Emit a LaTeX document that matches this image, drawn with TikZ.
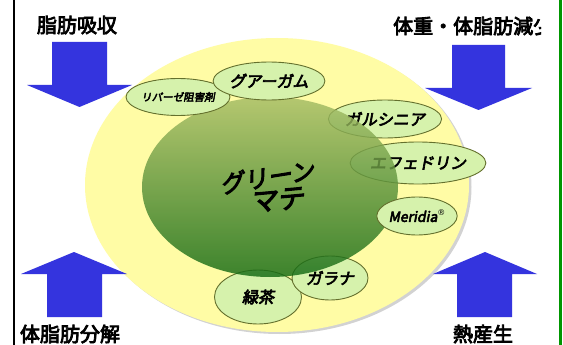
\documentclass[tikz,border=0pt]{standalone}
\usepackage{fontspec}
\usetikzlibrary{shapes.geometric}
\newfontfamily\jp{Noto Sans CJK JP}[FakeBold=4]
\newfontfamily\jpi{Noto Sans CJK JP}[FakeBold=4,FakeSlant=0.18]
\newfontfamily\dvs{DejaVu Sans}
\definecolor{arrowblue}{RGB}{52,52,222}
\definecolor{yel}{RGB}{255,252,165}
\definecolor{pale}{RGB}{214,242,172}
\definecolor{edgeol}{RGB}{100,112,45}
\definecolor{gtop}{RGB}{165,188,100}
\definecolor{gbot}{RGB}{18,105,18}
\definecolor{frameg}{RGB}{0,150,0}
\tikzset{
  bigarrow/.style={fill=arrowblue, draw=none},
  lbl/.style={font=\jp\fontsize{20}{20}\selectfont, inner sep=0pt},
  pill/.style={ellipse, draw=edgeol, line width=0.9pt, fill=pale, inner sep=0pt,
               font=\jpi\fontsize{16}{16}\selectfont},
}
\begin{document}
\begin{tikzpicture}[x=1pt,y=-1pt]
\useasboundingbox (0,0) rectangle (563,345);
\fill[white] (0,0) rectangle (563,345);
% frame lines
\draw[black, line width=1.2pt] (14,0) -- (14,345);
\draw[frameg, line width=3pt] (560.5,0) -- (560.5,345);

% big yellow ellipse with soft shadow
\fill[gray!35] (279.5,187) ellipse [x radius=192, y radius=147];
\fill[yel] (277,185) ellipse [x radius=192, y radius=147];

% arrows
\fill[bigarrow] (52,42) -- (107,42) -- (107,85) -- (132,85) -- (79.5,107) -- (27,85) -- (52,85) -- cycle;
\fill[bigarrow] (452,45) -- (505,45) -- (505,88) -- (532,88) -- (478.5,110) -- (425,88) -- (452,88) -- cycle;
\fill[bigarrow] (47,317) -- (102,317) -- (102,274) -- (127,274) -- (74,252) -- (21,274) -- (47,274) -- cycle;
\fill[bigarrow] (457,317) -- (512,317) -- (512,274) -- (537,274) -- (485,252) -- (433,274) -- (457,274) -- cycle;

% labels
\node[lbl] (absorb) at (77,25) {脂肪吸収};
\begin{scope}
  \clip (380,0) rectangle (541,50);
  \node[lbl, anchor=west] (weight) at (393,26) {体重・体脂肪減少};
\end{scope}
\node[lbl] (lipolysis) at (70,334) {体脂肪分解};
\node[lbl] (thermo) at (483,334) {熱産生};

% small ellipses under the green one
\node[pill, minimum width=84pt, minimum height=38pt] (garc) at (385,119) {ガルシニア};
\node[pill, minimum width=88pt, minimum height=42pt] (ephed) at (418,163) {エフェドリン};
\node[pill, minimum width=87pt, minimum height=54pt] (ryoku) at (258,297) {緑茶};
\node[pill, minimum width=76pt, minimum height=44pt] (guara) at (330,278) {ガラナ};

% green mate ellipse
\path[top color=gtop, bottom color=gbot, fill opacity=0.82] (270,187) ellipse [x radius=128, y radius=90];
\node[font=\jpi\fontsize{24}{24}\selectfont, rotate=9, inner sep=0pt] (gm1) at (267,177) {グリーン};
\node[font=\jpi\fontsize{27}{27}\selectfont, rotate=5, inner sep=0pt] (gm2) at (277,200) {マテ};

% small ellipses on top
\node[pill, minimum width=76pt, minimum height=37pt, font=\jpi\fontsize{10.5}{11}\selectfont] (lipase) at (178,97) {リパーゼ阻害剤};
\node[pill, minimum width=82pt, minimum height=38pt] (guar) at (269,81) {グアーガム};
\node[pill, minimum width=76pt, minimum height=38pt, font=\jpi\fontsize{14}{15}\selectfont] (meridia) at (417,216) {Meridia\raisebox{0.8ex}{\dvs\fontsize{8}{8}\selectfont ®}};
\end{tikzpicture}
\end{document}
